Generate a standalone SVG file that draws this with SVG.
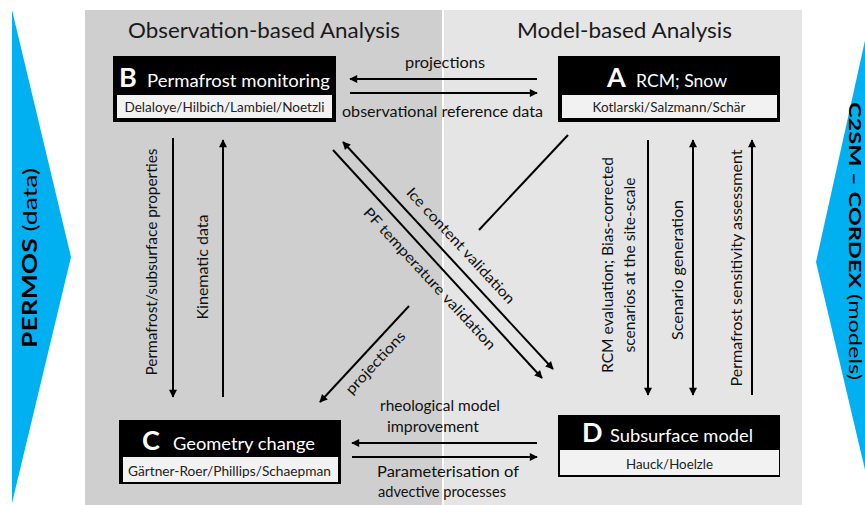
<svg xmlns="http://www.w3.org/2000/svg" width="865" height="505" viewBox="0 0 865 505">
  <style>
    text { font-family: Lato, "Open Sans", "Liberation Sans", sans-serif; fill: #111; }
    .head { font-size: 21px; fill: #1a1a1a; }
    .title { font-size: 18px; fill: #fff; }
    .letter { font-size: 27px; font-weight: bold; fill: #fff; }
    .sub { font-size: 13px; fill: #222; }
    .lbl { font-size: 14.5px; }
    .side { font-size: 20px; fill: #000; }
    .box { fill: #000; }
    .inner { fill: #f2f2f2; stroke: #000; stroke-width: 1; }
    .wire { stroke: #000; stroke-width: 2; fill: none; }
  </style>
  <defs>
    <marker id="head" viewBox="0 0 10 10" refX="9" refY="5" markerWidth="9" markerHeight="8" markerUnits="userSpaceOnUse" orient="auto-start-reverse">
      <path d="M0,0 L10,5 L0,10 Z" fill="#000"/>
    </marker>
  </defs>

  <rect width="865" height="505" fill="#fff"/>

  <!-- side bands -->
  <g id="permos">
    <polygon points="12,10 71,257 12,503" fill="#00b0f0"/>
    <text class="side" transform="translate(37,258) rotate(-90)" text-anchor="middle" textLength="180" lengthAdjust="spacingAndGlyphs"><tspan font-weight="bold">PERMOS</tspan> (data)</text>
  </g>
  <g id="c2sm">
    <polygon points="866,36 816,262 866,474" fill="#00b0f0"/>
    <text class="side" style="font-size:17px" transform="translate(849,241) rotate(90)" text-anchor="middle" textLength="278" lengthAdjust="spacingAndGlyphs"><tspan font-weight="bold">C2SM – CORDEX</tspan> (models)</text>
  </g>

  <!-- analysis panels -->
  <rect x="85" y="10" width="357" height="495" fill="#cfcfcf"/>
  <rect x="444" y="10" width="358" height="495" fill="#e5e5e5"/>
  <text class="head" x="128" y="38" textLength="272" lengthAdjust="spacingAndGlyphs">Observation-based Analysis</text>
  <text class="head" x="517" y="38" textLength="215" lengthAdjust="spacingAndGlyphs">Model-based Analysis</text>

  <!-- nodes -->
  <g id="nodeB">
    <rect class="box" x="113" y="56" width="223" height="66"/>
    <rect class="inner" x="116.5" y="94.5" width="216" height="24"/>
    <text class="letter" x="119" y="87">B</text>
    <text class="title" x="147" y="87" textLength="183" lengthAdjust="spacingAndGlyphs">Permafrost monitoring</text>
    <text class="sub" x="224.5" y="112" text-anchor="middle" textLength="200" lengthAdjust="spacingAndGlyphs">Delaloye/Hilbich/Lambiel/Noetzli</text>
  </g>
  <g id="nodeA">
    <rect class="box" x="558" y="56" width="222" height="66"/>
    <rect class="inner" x="561.5" y="94.5" width="216" height="24"/>
    <text class="letter" x="607" y="87">A</text>
    <text class="title" x="636" y="87" textLength="91" lengthAdjust="spacingAndGlyphs">RCM; Snow</text>
    <text class="sub" x="669" y="112" text-anchor="middle" textLength="153" lengthAdjust="spacingAndGlyphs">Kotlarski/Salzmann/Schär</text>
  </g>
  <g id="nodeC">
    <rect class="box" x="119" y="420" width="222" height="64"/>
    <rect class="inner" x="122.5" y="456.5" width="216" height="26"/>
    <text class="letter" x="142" y="450">C</text>
    <text class="title" x="173" y="450" textLength="142" lengthAdjust="spacingAndGlyphs">Geometry change</text>
    <text class="sub" x="229.5" y="476" text-anchor="middle" textLength="203" lengthAdjust="spacingAndGlyphs">Gärtner-Roer/Phillips/Schaepman</text>
  </g>
  <g id="nodeD">
    <rect class="box" x="558" y="415" width="222" height="62"/>
    <rect class="inner" x="559.5" y="449.5" width="220" height="26"/>
    <text class="letter" x="582" y="442">D</text>
    <text class="title" x="610" y="442" textLength="143" lengthAdjust="spacingAndGlyphs">Subsurface model</text>
    <text class="sub" x="669.5" y="469" text-anchor="middle" textLength="87" lengthAdjust="spacingAndGlyphs">Hauck/Hoelzle</text>
  </g>

  <!-- connectors -->
  <g id="connectors">
    <!-- A <-> B -->
    <line class="wire" x1="537" y1="79" x2="350" y2="79" marker-end="url(#head)"/>
    <line class="wire" x1="350" y1="93" x2="537" y2="93" marker-end="url(#head)"/>
    <!-- B <-> C -->
    <line class="wire" x1="173" y1="138" x2="173" y2="397" marker-end="url(#head)"/>
    <line class="wire" x1="223" y1="397" x2="223" y2="140" marker-end="url(#head)"/>
    <!-- B <-> D diagonals -->
    <line class="wire" x1="553" y1="369" x2="343" y2="142" marker-start="url(#head)" marker-end="url(#head)"/>
    <line class="wire" x1="333" y1="150" x2="542" y2="378" marker-end="url(#head)"/>
    <!-- A -> C diagonal -->
    <line class="wire" x1="568" y1="135" x2="479" y2="230"/>
    <line class="wire" x1="409" y1="306" x2="320" y2="402" marker-end="url(#head)"/>
    <!-- A <-> D -->
    <line class="wire" x1="648" y1="140" x2="648" y2="395" marker-end="url(#head)"/>
    <line class="wire" x1="693" y1="140" x2="693" y2="395" marker-start="url(#head)" marker-end="url(#head)"/>
    <line class="wire" x1="752" y1="395" x2="752" y2="140" marker-end="url(#head)"/>
    <!-- D <-> C -->
    <line class="wire" x1="537" y1="443" x2="352" y2="443" marker-end="url(#head)"/>
    <line class="wire" x1="352" y1="457" x2="537" y2="457" marker-end="url(#head)"/>
  </g>

  <!-- connector labels -->
  <g id="labels">
    <text class="lbl" x="445" y="68" text-anchor="middle" textLength="80" lengthAdjust="spacingAndGlyphs">projections</text>
    <text class="lbl" x="442.5" y="117" text-anchor="middle" textLength="201" lengthAdjust="spacingAndGlyphs">observational reference data</text>
    <text class="lbl" transform="translate(157,262) rotate(-90)" text-anchor="middle" textLength="227" lengthAdjust="spacingAndGlyphs">Permafrost/subsurface properties</text>
    <text class="lbl" transform="translate(208,267) rotate(-90)" text-anchor="middle" textLength="105" lengthAdjust="spacingAndGlyphs">Kinematic data</text>
    <text class="lbl" transform="translate(457,249) rotate(47.3)" text-anchor="middle" textLength="152" lengthAdjust="spacingAndGlyphs">Ice content validation</text>
    <text class="lbl" transform="translate(426,282) rotate(47.3)" text-anchor="middle" textLength="187" lengthAdjust="spacingAndGlyphs">PF temperature validation</text>
    <text class="lbl" transform="translate(379,366) rotate(-47)" text-anchor="middle" textLength="80" lengthAdjust="spacingAndGlyphs">projections</text>
    <text class="lbl" transform="translate(613,265) rotate(-90)" text-anchor="middle" textLength="216" lengthAdjust="spacingAndGlyphs">RCM evaluation; Bias-corrected</text>
    <text class="lbl" transform="translate(635,265) rotate(-90)" text-anchor="middle" textLength="175" lengthAdjust="spacingAndGlyphs">scenarios at the site-scale</text>
    <text class="lbl" transform="translate(683,270) rotate(-90)" text-anchor="middle" textLength="140" lengthAdjust="spacingAndGlyphs">Scenario generation</text>
    <text class="lbl" transform="translate(742,268) rotate(-90)" text-anchor="middle" textLength="237" lengthAdjust="spacingAndGlyphs">Permafrost sensitivity assessment</text>
    <text class="lbl" x="440" y="411" text-anchor="middle" textLength="120" lengthAdjust="spacingAndGlyphs">rheological model</text>
    <text class="lbl" x="433" y="432" text-anchor="middle" textLength="92" lengthAdjust="spacingAndGlyphs">improvement</text>
    <text class="lbl" x="448" y="477" text-anchor="middle" textLength="142" lengthAdjust="spacingAndGlyphs">Parameterisation of</text>
    <text class="lbl" x="442" y="497" text-anchor="middle" textLength="128" lengthAdjust="spacingAndGlyphs">advective processes</text>
  </g>
</svg>
